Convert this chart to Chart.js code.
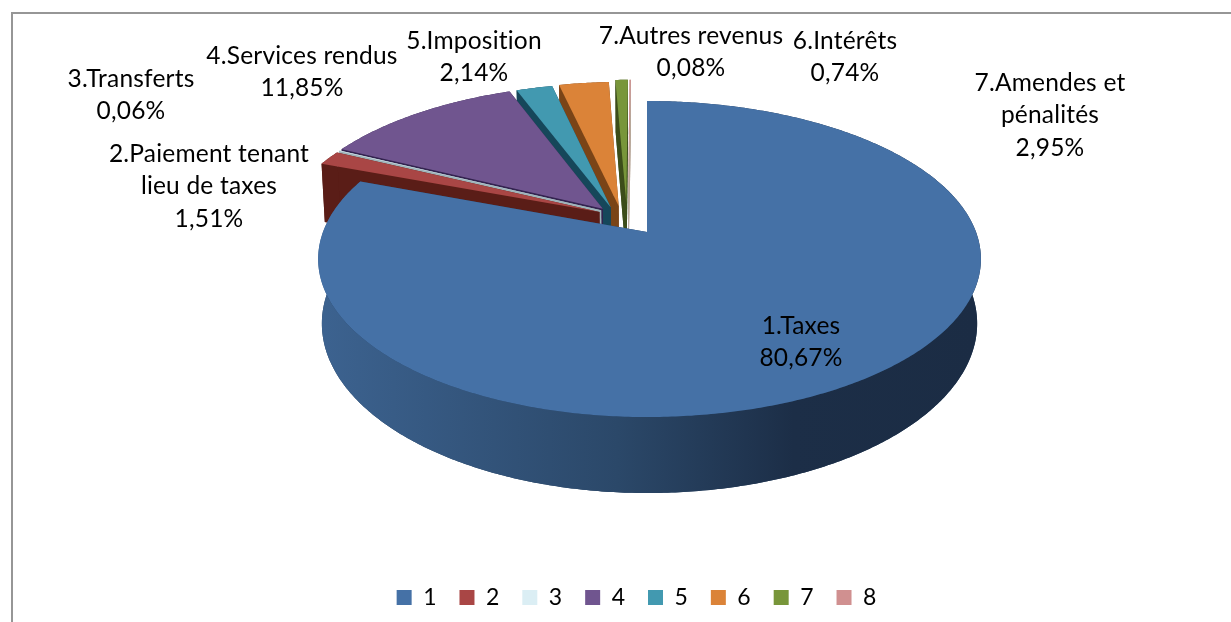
<!DOCTYPE html>
<html lang="fr">
<head>
<meta charset="utf-8">
<title>Revenus</title>
<script src="https://cdn.jsdelivr.net/npm/chart.js@4"></script>
<style>
    html, body { margin: 0; padding: 0; background: #fff; overflow: hidden; }
    #wrap { position: relative; width: 1231px; height: 622px; }
    #frame { position: absolute; left: 11px; top: 12px; right: -4px; bottom: -4px; border: 2px solid #969696; }
    canvas { position: absolute; left: 0; top: 0; }
</style>
</head>
<body>
<div id="wrap">
    <div id="frame"></div>
    <canvas id="pieChart" width="1231" height="622"></canvas>
</div>
<script>
// values
const legendLabels = ['1', '2', '3', '4', '5', '6', '7', '8'];
const sliceValues = [80.67, 1.51, 0.06, 11.85, 2.14, 2.95, 0.74, 0.08];
const sliceNames = [
    ['1.Taxes'],
    ['2.Paiement tenant', 'lieu de taxes'],
    ['3.Transferts'],
    ['4.Services rendus'],
    ['5.Imposition'],
    ['7.Amendes et', 'pénalités'],
    ['6.Intérêts'],
    ['7.Autres revenus']
];
const topColors = ['#4571a6', '#a94645', '#dbeef4', '#70558f', '#4299b0', '#db8338', '#78963a', '#d09090'];
const sideColors = ['#26405f', '#5a1d17', '#9fb4ba', '#33234f', '#16475a', '#7a4417', '#3c4d1a', '#b8a89a'];

// explosion of each slice on the pie disc (unit radius)
const explodeU = [0, -0.15, -0.145, -0.14, -0.115, -0.09, -0.066, -0.06];
const explodeV = [0, -0.133, -0.145, -0.155, -0.165, -0.175, -0.195, -0.195];

// label anchors: [centre x, first line y]
const labelAnchors = [[801, 326], [209, 154], [131, 79], [302, 56], [474, 41], [1050, 83], [845, 41], [691, 36]];
const LABEL_LINE = 32.5;

// perspective of the pie
const CX = 647, CY = 232, RX_LEFT = 324, RX_RIGHT = 329, RY = 153.4, PERSP = -0.171;
const DEPTH = 63, VANISH_Y = 6000;

function project(u, v) {
    const w = 1 + PERSP * v;
    return { x: CX + (u < 0 ? RX_LEFT : RX_RIGHT) * u / w, y: CY + RY * v / w };
}

function dropped(u, v) {
    const p = project(u, v);
    const depth = DEPTH / (1 + PERSP * v);
    const t = depth / (VANISH_Y - p.y);
    return { x: p.x + (CX - p.x) * t, y: p.y + depth };
}

function fillPoly(ctx, pts, style) {
    ctx.beginPath();
    pts.forEach((p, i) => i ? ctx.lineTo(p.x, p.y) : ctx.moveTo(p.x, p.y));
    ctx.closePath();
    ctx.fillStyle = style;
    ctx.fill();
}

// arc element that draws itself as an exploded 3D slice
class Arc3D extends Chart.ArcElement {
    static id = 'arc3d';

    draw(ctx) {
        const i = this.sliceIndex;
        const du = explodeU[i], dv = explodeV[i];
        const steps = Math.max(2, Math.ceil((this.endAngle - this.startAngle) / 0.01));
        const rim = [];
        for (let s = 0; s <= steps; s++) {
            const a = this.startAngle + (this.endAngle - this.startAngle) * s / steps;
            rim.push([Math.cos(a) + du, Math.sin(a) + dv]);
        }
        const topRim = rim.map(r => project(r[0], r[1]));
        const lowRim = rim.map(r => dropped(r[0], r[1]));
        const topApex = project(du, dv);
        const lowApex = dropped(du, dv);

        let wall = sideColors[i];
        if (i === 0) {
            wall = ctx.createLinearGradient(325, 0, 975, 0);
            wall.addColorStop(0, '#3c628f');
            wall.addColorStop(0.45, '#2b4869');
            wall.addColorStop(0.72, '#1c2e47');
            wall.addColorStop(1, '#1b2c44');
        }

        ctx.save();
        fillPoly(ctx, [lowApex, ...lowRim], sideColors[i]);
        fillPoly(ctx, [topApex, topRim[0], lowRim[0], lowApex], sideColors[i]);
        fillPoly(ctx, [topApex, topRim[steps], lowRim[steps], lowApex], sideColors[i]);
        fillPoly(ctx, [...topRim, ...lowRim.slice().reverse()], wall);
        fillPoly(ctx, [topApex, ...topRim], this.options.backgroundColor);
        ctx.restore();
    }
}

// pie controller painting back to front, so the big slice ends on top
class Pie3DController extends Chart.PieController {
    static id = 'pie3d';
    static defaults = { dataElementType: 'arc3d' };

    draw() {
        const ctx = this.chart.ctx;
        const arcs = this.getMeta().data;
        for (let i = arcs.length - 1; i >= 0; i--) {
            arcs[i].sliceIndex = i;
            arcs[i].draw(ctx);
        }
    }
}

Chart.register(Arc3D, Pie3DController);

const FONT = '"Lato", sans-serif';

const sliceLabels = {
    id: 'sliceLabels',
    afterDraw(chart) {
        const ctx = chart.ctx;
        ctx.save();
        ctx.font = '24.5px ' + FONT;
        ctx.letterSpacing = '0.2px'; // also stops the "ti" ligature
        ctx.fillStyle = '#000';
        ctx.textAlign = 'center';
        ctx.textBaseline = 'middle';
        sliceValues.forEach((value, i) => {
            const lines = [...sliceNames[i], value.toFixed(2).replace('.', ',') + '%'];
            lines.forEach((line, n) => {
                ctx.fillText(line, labelAnchors[i][0], labelAnchors[i][1] + n * LABEL_LINE);
            });
        });
        ctx.restore();
    }
};

new Chart(document.getElementById('pieChart').getContext('2d'), {
    type: 'pie3d',
    data: {
        labels: legendLabels,
        datasets: [{ data: sliceValues, backgroundColor: topColors, borderWidth: 0 }]
    },
    options: {
        responsive: false,
        animation: false,
        events: [],
        layout: { padding: { left: 42, bottom: 3 } },
        plugins: {
            tooltip: { enabled: false },
            legend: {
                position: 'bottom',
                labels: {
                    boxWidth: 15,
                    boxHeight: 15,
                    padding: 23,
                    color: '#000',
                    font: { family: FONT, size: 23 }
                }
            }
        }
    },
    plugins: [sliceLabels]
});
</script>
</body>
</html>
